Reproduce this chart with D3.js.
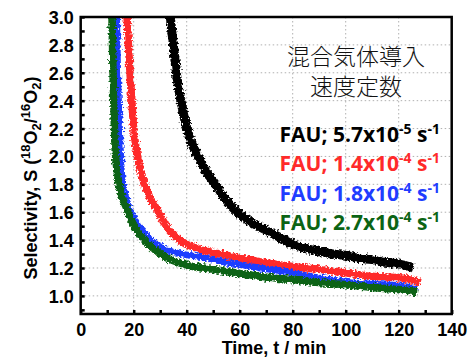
<!DOCTYPE html>
<html>
<head>
<meta charset="utf-8">
<script src="https://cdn.jsdelivr.net/npm/d3@7"></script>
<style>
	body { margin: 0; background: #fff; }
	svg text { font-family: "Liberation Sans", Arial, sans-serif; }
</style>
</head>
<body>
<div id="chart"></div>
<script>

// (data) Selectivity vs time
var tBlack = [33.4, 33.8, 35, 36.3, 37.9, 40.1, 42, 44.3, 47, 50.5, 54, 57.5, 61, 65, 70, 75, 80, 85, 90, 95, 100, 105, 110, 115, 120, 125.5];
var sBlack = [3.1, 3.0, 2.8, 2.57, 2.39, 2.2, 2.09, 2.0, 1.9, 1.81, 1.71, 1.63, 1.57, 1.52, 1.47, 1.42, 1.37, 1.34, 1.32, 1.30, 1.29, 1.27, 1.26, 1.24, 1.23, 1.20];

var tRed = [17.2, 17.5, 18, 18.6, 19.3, 20, 21, 22.2, 23.6, 26, 28.8, 32, 34, 36.3, 40, 44, 50, 57.6, 67.7, 80, 90, 100, 110, 120, 128];
var sRed = [3.1, 3.0, 2.8, 2.6, 2.4, 2.2, 2.05, 1.93, 1.83, 1.71, 1.62, 1.51, 1.455, 1.415, 1.37, 1.34, 1.31, 1.28, 1.245, 1.21, 1.19, 1.165, 1.14, 1.13, 1.10];

var tBlue = [13.4, 13.6, 14, 14.5, 15, 15.6, 16.8, 18.6, 21, 23.6, 27, 32.5, 38, 45, 55, 67.7, 80, 90, 100, 110, 120, 127];
var sBlue = [3.1, 3.0, 2.6, 2.3, 2.05, 1.85, 1.73, 1.62, 1.52, 1.46, 1.39, 1.33, 1.30, 1.28, 1.24, 1.20, 1.165, 1.13, 1.10, 1.085, 1.075, 1.05];

var tGreen = [11.5, 11.8, 12.2, 12.6, 13, 13.6, 14.2, 15.5, 17.5, 19.2, 21.2, 24, 28, 33, 40, 50, 60, 67.7, 80, 90, 100, 110, 120, 127];
var sGreen = [3.1, 3.0, 2.6, 2.3, 2.05, 1.92, 1.83, 1.72, 1.62, 1.54, 1.47, 1.40, 1.33, 1.27, 1.22, 1.19, 1.16, 1.14, 1.115, 1.095, 1.08, 1.06, 1.045, 1.03];

var seriesColors = ["#000000", "#ff2a2a", "#1f3dff", "#0b6414"];
var seriesWidths = [9, 7.5, 6.5, 7.5];

var legendRates = ["5.7x10", "1.4x10", "1.8x10", "2.7x10"];
var legendExp = ["-5", "-4", "-4", "-4"];

var xTicks = [0, 20, 40, 60, 80, 100, 120, 140];
var yTicks = [1.0, 1.2, 1.4, 1.6, 1.8, 2.0, 2.2, 2.4, 2.6, 2.8, 3.0];

var W = 469, H = 357;
var svg = d3.select("#chart").append("svg")
	.attr("width", W)
	.attr("height", H);

// (scales)
var x = d3.scaleLinear().domain([0, 140]).range([80.7, 451.7]);
var y = d3.scaleLinear().domain([0.87, 3.0]).range([314, 17]);

var defs = svg.append("defs");
defs.append("clipPath").attr("id", "plot-clip")
	.append("rect")
	.attr("x", x(0)).attr("y", y(3.0))
	.attr("width", x(140) - x(0)).attr("height", y(0.87) - y(3.0));

// (noise) ragged edges for the measured traces
var rough = defs.append("filter").attr("id", "rough")
	.attr("x", "-5%").attr("y", "-5%").attr("width", "110%").attr("height", "110%");
rough.append("feTurbulence")
	.attr("type", "fractalNoise")
	.attr("baseFrequency", "0.45")
	.attr("numOctaves", 2)
	.attr("seed", 4)
	.attr("result", "noise");
rough.append("feDisplacementMap")
	.attr("in", "SourceGraphic")
	.attr("in2", "noise")
	.attr("scale", 6)
	.attr("xChannelSelector", "R")
	.attr("yChannelSelector", "G");

// (grid) dotted grid lines
var grid = svg.append("g");
grid.selectAll("line.gx")
	.data(xTicks.filter(function(d) { return d > 0 && d < 140; }))
	.enter().append("line")
	.attr("x1", function(d) { return x(d); })
	.attr("x2", function(d) { return x(d); })
	.attr("y1", y(3.0)).attr("y2", y(0.87))
	.attr("stroke", "#b0b0b0").attr("stroke-width", 1)
	.attr("stroke-dasharray", "1.5,2.5");
grid.selectAll("line.gy")
	.data(yTicks.filter(function(d) { return d < 3.0; }))
	.enter().append("line")
	.attr("y1", function(d) { return y(d); })
	.attr("y2", function(d) { return y(d); })
	.attr("x1", x(0)).attr("x2", x(140))
	.attr("stroke", "#b0b0b0").attr("stroke-width", 1)
	.attr("stroke-dasharray", "1.5,2.5");

// (lines) data traces
var allSeries = [
	{t: tBlack, s: sBlack},
	{t: tRed, s: sRed},
	{t: tBlue, s: sBlue},
	{t: tGreen, s: sGreen}
];
var line = d3.line()
	.x(function(d) { return x(d[0]); })
	.y(function(d) { return y(d[1]); })
	.curve(d3.curveMonotoneX);

var traces = svg.append("g").attr("clip-path", "url(#plot-clip)")
	.append("g").attr("filter", "url(#rough)");
allSeries.forEach(function(ser, i) {
	var pts = ser.t.map(function(t, j) { return [t, ser.s[j]]; });
	traces.append("path")
		.datum(pts)
		.attr("d", line)
		.attr("fill", "none")
		.attr("stroke", seriesColors[i])
		.attr("stroke-width", seriesWidths[i])
		.attr("stroke-linejoin", "round");
});

// (axes) inward ticks
var xAxis = d3.axisBottom(x)
	.tickValues(d3.range(0, 141, 10))
	.tickSize(-4)
	.tickFormat(function(d) { return xTicks.indexOf(d) >= 0 ? d : ""; })
	.tickPadding(9);
var gx = svg.append("g").attr("transform", "translate(0," + y(0.87) + ")").call(xAxis);

var yAxis = d3.axisLeft(y)
	.tickValues(d3.range(9, 31).map(function(d) { return d / 10; }))
	.tickSize(-4)
	.tickFormat(function(d) {
		var r = Math.round(d * 10);
		return r % 2 === 0 && r >= 10 ? d3.format(".1f")(d) : "";
	})
	.tickPadding(7);
var gy = svg.append("g").attr("transform", "translate(" + x(0) + ",0)").call(yAxis);

[gx, gy].forEach(function(g) {
	g.select(".domain").remove();
	g.selectAll("line").attr("stroke", "#000").attr("stroke-width", 2.5);
	g.selectAll("text")
		.attr("fill", "#000")
		.style("font-size", "18px")
		.style("font-weight", "bold");
});
gy.selectAll("text").attr("dy", "0.36em");

// (frame)
svg.append("rect")
	.attr("x", x(0)).attr("y", y(3.0))
	.attr("width", x(140) - x(0)).attr("height", y(0.87) - y(3.0))
	.attr("fill", "none").attr("stroke", "#000").attr("stroke-width", 2.5);

// (labels)
svg.append("text")
	.attr("x", 274).attr("y", 354)
	.attr("text-anchor", "middle")
	.style("font-size", "18px").style("font-weight", "bold")
	.text("Time, t / min");

var yl = svg.append("text")
	.attr("transform", "translate(37,178) rotate(-90)")
	.attr("text-anchor", "middle")
	.style("font-size", "18px").style("font-weight", "bold");
yl.append("tspan").text("Selectivity, S (");
yl.append("tspan").attr("dy", -7).style("font-size", "13px").text("18");
yl.append("tspan").attr("dy", 7).text("O");
yl.append("tspan").attr("dy", 4).style("font-size", "13px").text("2");
yl.append("tspan").attr("dy", -4).text("/");
yl.append("tspan").attr("dy", -7).style("font-size", "13px").text("16");
yl.append("tspan").attr("dy", 7).text("O");
yl.append("tspan").attr("dy", 4).style("font-size", "13px").text("2");
yl.append("tspan").attr("dy", -4).text(")");

// (title) Japanese annotation
var jp = ["混合気体導入", "速度定数"];
svg.selectAll("text.jp")
	.data(jp)
	.enter().append("text")
	.attr("class", "jp")
	.attr("x", 356)
	.attr("y", function(d, i) { return 65 + i * 30; })
	.attr("text-anchor", "middle")
	.style("font-family", "'Noto Sans CJK JP', sans-serif")
	.style("font-size", "23px")
	.style("font-weight", "300")
	.attr("fill", "#111")
	.text(function(d) { return d; });

// (legend)
legendRates.forEach(function(r, i) {
	var t = svg.append("text")
		.attr("x", 440)
		.attr("y", 142 + i * 29.4)
		.attr("text-anchor", "end")
		.attr("fill", seriesColors[i])
		.style("font-family", "'Open Sans', sans-serif")
		.style("font-size", "21px")
		.style("font-weight", "bold");
	t.append("tspan").text("FAU; " + r);
	t.append("tspan").attr("dy", -8).style("font-size", "14px").text(legendExp[i]);
	t.append("tspan").attr("dy", 8).text(" s");
	t.append("tspan").attr("dy", -8).style("font-size", "14px").text("-1");
});

</script>
</body>
</html>
